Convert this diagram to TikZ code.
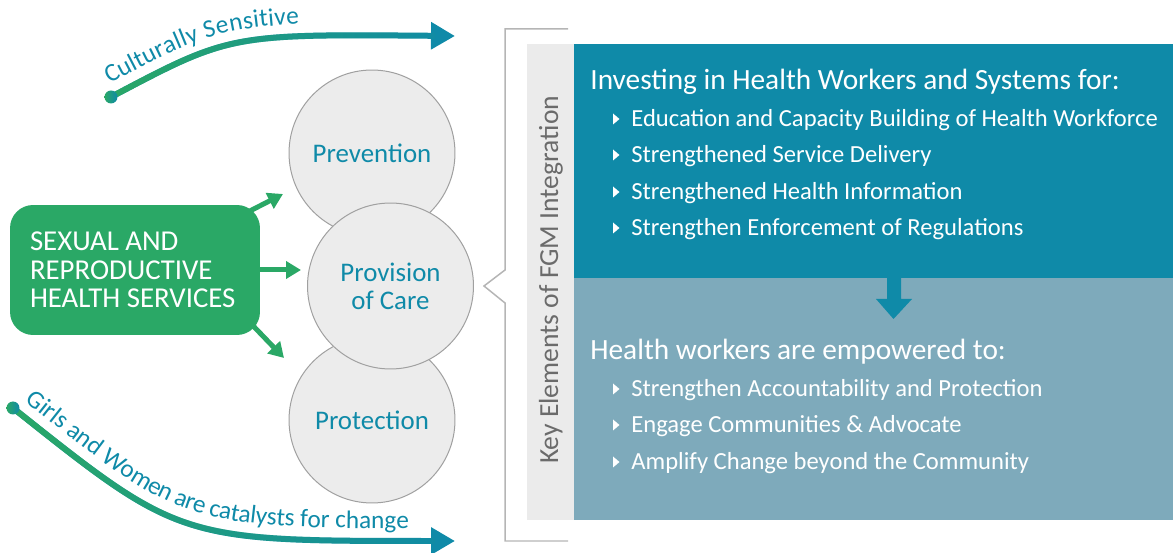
\documentclass[tikz,border=0pt]{standalone}
\usepackage{fontspec}
\setmainfont{Carlito}
\usetikzlibrary{arrows.meta,decorations.text,fadings}

\definecolor{srhgreen}{HTML}{2AA866}
\definecolor{fgmteal}{HTML}{0F8AA8}
\definecolor{fgmslate}{HTML}{7EAABB}
\definecolor{keygray}{HTML}{EBEBEB}
\definecolor{keytext}{HTML}{6B6B6B}
\definecolor{circgray}{HTML}{ECECEC}
\definecolor{rimgray}{HTML}{A0A0A0}
\definecolor{bracketgray}{HTML}{B5B5B5}

\tikzfading[name=fade out east, left color=transparent!0, right color=transparent!100]

\newcommand\curvefont{\fontsize{14.4}{16}\selectfont}

\tikzset{
  service/.style={circle, draw=rimgray, fill=circgray, line width=0.02cm,
    minimum size=3.32cm, inner sep=0pt, text=fgmteal, align=flush center,
    font=\fontsize{15.3}{16}\selectfont},
  push/.style={draw=srhgreen, line width=0.1cm,
    -{Triangle[length=0.3cm,width=0.34cm]}},
  sweep/.style={line width=0.12cm, fgmteal,
    -{Triangle[length=0.48cm,width=0.52cm]}},
  sweepfade/.style={line width=0.12cm, srhgreen, path fading=fade out east,
    shorten >=0.4cm},
  head/.style={anchor=base west, inner sep=0pt, text=white,
    font=\fontsize{16.7}{18}\selectfont},
  item/.style={anchor=base west, inner sep=0pt, text=white,
    font=\fontsize{14}{16}\selectfont},
}

\begin{document}
\begin{tikzpicture}[x=0.02cm,y=-0.02cm]
\useasboundingbox (0,0) rectangle (1173,553);

% curved arrows
\coordinate (cs0) at (111,97);
\coordinate (cs1) at (230,34);
\coordinate (cs2) at (455,36);
\coordinate (gw0) at ( 13,408);
\coordinate (gw1) at (180,541);
\coordinate (gw2) at (455,541);
\draw[sweep]     (cs0) .. controls (cs1) .. (cs2);
\draw[sweepfade] (cs0) .. controls (cs1) .. (cs2);
\draw[sweep]     (gw0) .. controls (gw1) .. (gw2);
\draw[sweepfade] (gw0) .. controls (gw1) .. (gw2);
\shade[left color=srhgreen,right color=fgmteal] (cs0) circle (0.13cm);
\shade[left color=srhgreen,right color=fgmteal] (gw0) circle (0.13cm);
\path[decorate,decoration={text along path,text color=fgmteal,raise=0.25cm,
    text align={left indent=0.1cm},text={|\curvefont|Culturally Sensitive}}]
    (cs0) .. controls (cs1) .. (cs2);
\path[decorate,decoration={text along path,text color=fgmteal,raise=0.25cm,
    text align={left indent=0.1cm},
    text={|\curvefont|Girls and Women are catalysts for change}}]
    (gw0) .. controls (gw1) .. (gw2);

% services
\node[service] (prev) at (372,153) {Prevention};
\node[service] (prot) at (372,420) {Protection};
\node[service] (prov) at (390.5,286) {Provision\\of Care};

\coordinate (tipprev) at (283,194);
\coordinate (lowstart) at (236,308);
\coordinate (tipprot) at (284,358);
\node (srh) at (135,270) {};
\draw[push] (srh.center) -- (tipprev);
\draw[push] (lowstart) -- (tipprot);
\draw[push,shorten >=0.12cm] (srh.center) -- (srh.center -| prov.west);
\node[fill=srhgreen, rounded corners=0.46cm, minimum width=5cm,
    minimum height=2.6cm, text width=4.2cm, inner xsep=0.4cm,
    align=flush left, text=white, font=\fontsize{16.4}{16.2}\selectfont]
    (srh) at (135,270) {SEXUAL AND\\REPRODUCTIVE\\HEALTH SERVICES};

% bracket and key strip
\draw[bracketgray,line width=0.03cm]
    (568,29) -- (505,29) -- (505,270) -- (484,286) -- (505,303)
    -- (505,541) -- (568,541);
\fill[keygray] (527,44) rectangle (574,520);
\node[rotate=90, text=keytext, font=\fontsize{15.7}{16}\selectfont] (key)
    at (551,280) {Key Elements of FGM Integration};

% panels
\fill[fgmteal]  (574, 44) rectangle (1173,278);
\fill[fgmslate] (574,278) rectangle (1173,520);
\fill[fgmteal] (887,278) -- (901,278) -- (901,299) -- (912,299)
    -- (893.5,319) -- (876,299) -- (887,299) -- cycle;

\path
      (590, 90) node [head] (invest) {Investing in Health Workers and Systems for:}
    ++( 41, 37) node [item] (educ)   {Education and Capacity Building of Health Workforce}
    ++(  0, 36) node [item] (deliv)  {Strengthened Service Delivery}
    ++(  0, 37) node [item] (info)   {Strengthened Health Information}
    ++(  0, 36) node [item] (regul)  {Strengthen Enforcement of Regulations};
\path
      (590,360) node [head] (empow)  {Health workers are empowered to:}
    ++( 41, 37) node [item] (accnt)  {Strengthen Accountability and Protection}
    ++(  0, 36) node [item] (comm)   {Engage Communities \& Advocate}
    ++(  0, 37) node [item] (ampl)   {Amplify Change beyond the Community};
\foreach \y in {119,155,192,228,389,425,462}
    \fill[white] (613,\y-5.5) -- (619.5,\y) -- (613,\y+5.5) -- cycle;
\end{tikzpicture}
\end{document}
